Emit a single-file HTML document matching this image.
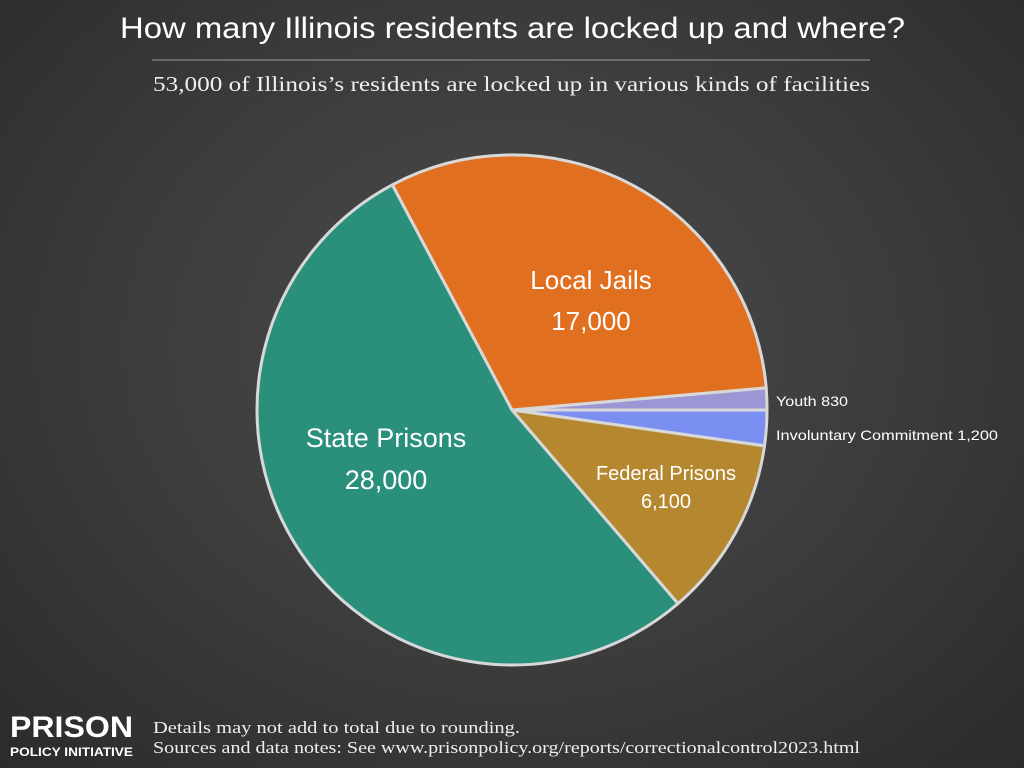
<!DOCTYPE html>
<html><head><meta charset="utf-8"><style>
html,body{margin:0;padding:0}
body{width:1024px;height:768px;overflow:hidden;background:radial-gradient(ellipse at 50% 45%,#4c4c4c 0%,#3b3b3b 55%,#2b2b2b 100%);font-family:"Liberation Sans","DejaVu Sans",sans-serif;position:relative}
</style></head><body>
<svg width="1024" height="768" xmlns="http://www.w3.org/2000/svg" style="position:absolute;left:0;top:0">
<text x="120" y="38" textLength="785" lengthAdjust="spacingAndGlyphs" font-family="Liberation Sans,sans-serif" font-size="30" fill="#fff">How many Illinois residents are locked up and where?</text>
<line x1="152" y1="60" x2="870" y2="60" stroke="#999" stroke-width="1"/>
<text x="153" y="91" textLength="717" lengthAdjust="spacingAndGlyphs" font-family="Liberation Serif,serif" font-size="21" fill="#eee">53,000 of Illinois’s residents are locked up in various kinds of facilities</text>
<g stroke="#d8d8d8" stroke-width="3" stroke-linejoin="round">
<path d="M512,410 L766.2,387.8 A255,255 0 0 1 767,410 Z" fill="#9b97d4"/>
<path d="M512,410 L767,410 A255,255 0 0 1 764.5,445.9 Z" fill="#7b8ef2"/>
<path d="M512,410 L764.5,445.9 A255,255 0 0 1 678,603.6 Z" fill="#b5882f"/>
<path d="M512,410 L678,603.6 A255,255 0 1 1 392.4,184.8 Z" fill="#2a907b"/>
<path d="M512,410 L392.4,184.8 A255,255 0 0 1 766.2,387.8 Z" fill="#e0701f"/>
</g>
<g font-family="Liberation Sans,sans-serif" fill="#fff" text-anchor="middle">
<text x="591" y="289" font-size="26">Local Jails</text>
<text x="591" y="330" font-size="26">17,000</text>
<text x="386" y="447" font-size="27">State Prisons</text>
<text x="386" y="489" font-size="27">28,000</text>
<text x="666" y="480" font-size="20">Federal Prisons</text>
<text x="666" y="508" font-size="20">6,100</text>
</g>
<g font-family="Liberation Sans,sans-serif" fill="#fff" font-size="14">
<text x="776" y="406" textLength="72" lengthAdjust="spacingAndGlyphs">Youth 830</text>
<text x="776" y="440" textLength="222" lengthAdjust="spacingAndGlyphs">Involuntary Commitment 1,200</text>
</g>
<g font-family="Liberation Sans,sans-serif" fill="#fff">
<text x="10" y="737" font-size="30" font-weight="bold" textLength="123" lengthAdjust="spacingAndGlyphs">PRISON</text>
<text x="10" y="756" font-size="12" font-weight="bold" textLength="123" lengthAdjust="spacingAndGlyphs">POLICY INITIATIVE</text>
</g>
<g font-family="Liberation Serif,serif" fill="#eee" font-size="17">
<text x="153" y="733" textLength="367" lengthAdjust="spacingAndGlyphs">Details may not add to total due to rounding.</text>
<text x="153" y="753" textLength="707" lengthAdjust="spacingAndGlyphs">Sources and data notes: See www.prisonpolicy.org/reports/correctionalcontrol2023.html</text>
</g>
</svg>
</body></html>
